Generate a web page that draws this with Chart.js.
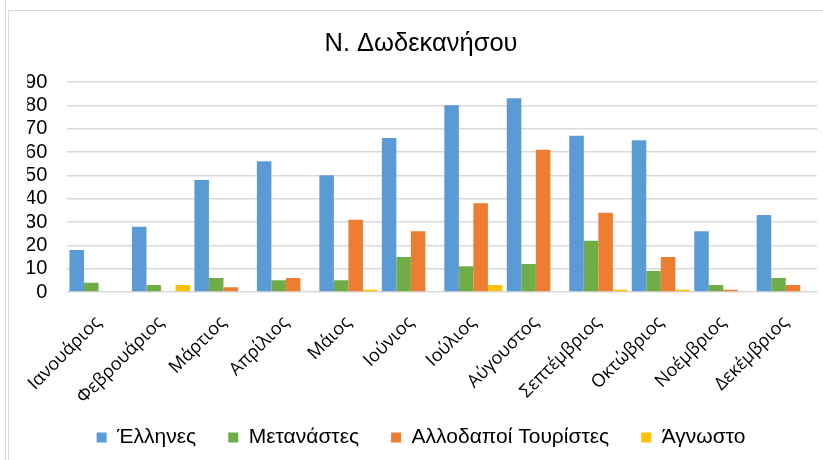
<!DOCTYPE html>
<html>
<head>
<meta charset="utf-8">
<script src="https://cdn.jsdelivr.net/npm/chart.js@4"></script>
<style>
  html, body { margin: 0; padding: 0; background: #fff; }
  body { width: 823px; height: 460px; position: relative; overflow: hidden; }
  .frame { position: absolute; left: 5px; top: 0; width: 0; height: 460px; border-left: 1px solid #d4d4d4; }
  .box { position: absolute; left: 8px; top: 10px; width: 814px; height: 449px;
         border-left: 1px solid #d9d9d9; border-top: 1px solid #d9d9d9; }
</style>
</head>
<body>
<div class="frame"></div>
<div class="box"><canvas id="chart" width="814" height="449"></canvas></div>
<script>
  // Μήνες
  const months = ["Ιανουάριος", "Φεβρουάριος", "Μάρτιος", "Απρίλιος", "Μάιος", "Ιούνιος",
    "Ιούλιος", "Αύγουστος", "Σεπτέμβριος", "Οκτώβριος", "Νοέμβριος", "Δεκέμβριος"];

  const ellines = [18, 28, 48, 56, 50, 66, 80, 83, 67, 65, 26, 33];
  const metanastes = [4, 3, 6, 5, 5, 15, 11, 12, 22, 9, 3, 6];
  const touristes = [0, 0, 2, 6, 31, 26, 38, 61, 34, 15, 1, 3];
  const agnosto = [0, 3, 0, 0, 1, 0, 3, 0, 1, 1, 0, 0];

  const yTicks = [0, 10, 20, 30, 40, 50, 60, 70, 80, 90];

  function serie(label, data, color) {
    return {
      label: label,
      data: data,
      backgroundColor: color,
      borderWidth: 0,
      categoryPercentage: 0.93,
      barPercentage: 1.0
    };
  }

  const ctx = document.getElementById("chart").getContext("2d");
  new Chart(ctx, {
    type: "bar",
    data: {
      labels: months,
      datasets: [
        serie("Έλληνες", ellines, "#5B9BD5"),
        serie("Μετανάστες", metanastes, "#70AD47"),
        serie("Αλλοδαποί Τουρίστες", touristes, "#ED7D31"),
        serie("Άγνωστο", agnosto, "#FFC000")
      ]
    },
    options: {
      responsive: false,
      animation: false,
      layout: { padding: { left: 16, right: 6, top: 0, bottom: 2 } },
      plugins: {
        tooltip: { enabled: false },
        title: {
          display: true,
          text: "Ν. Δωδεκανήσου",
          color: "#000",
          font: { family: "'Liberation Sans', Arial, sans-serif", size: 25.5, weight: "normal", lineHeight: 1.2 },
          padding: { top: 17.7, bottom: 22.7 }
        },
        legend: {
          position: "bottom",
          labels: {
            boxWidth: 10,
            boxHeight: 10,
            padding: 32,
            color: "#000",
            font: { family: "'Liberation Sans', Arial, sans-serif", size: 21 }
          }
        }
      },
      scales: {
        x: {
          grid: { display: false, drawTicks: false },
          border: { display: false },
          afterFit: (s) => {
            s.height = 103;
            // οι ετικέτες δεν κόβονται στο κάτω όριο του άξονα
            s._computeLabelArea = () => undefined;
          },
          ticks: {
            autoSkip: false,
            maxRotation: 45,
            minRotation: 45,
            padding: 20,
            color: "#000",
            font: { family: "'Open Sans', sans-serif", size: 18 }
          }
        },
        y: {
          min: 0,
          max: 90,
          afterFit: (s) => { s.width = 40; },
          afterBuildTicks: (s) => { s.ticks = yTicks.map(v => ({ value: v })); },
          grid: { color: "#d9d9d9", lineWidth: 1.5, drawTicks: false },
          border: { display: false },
          ticks: {
            autoSkip: false,
            padding: 20,
            color: "#000",
            font: { family: "'Liberation Sans', Arial, sans-serif", size: 20 }
          }
        }
      }
    }
  });
</script>
</body>
</html>
